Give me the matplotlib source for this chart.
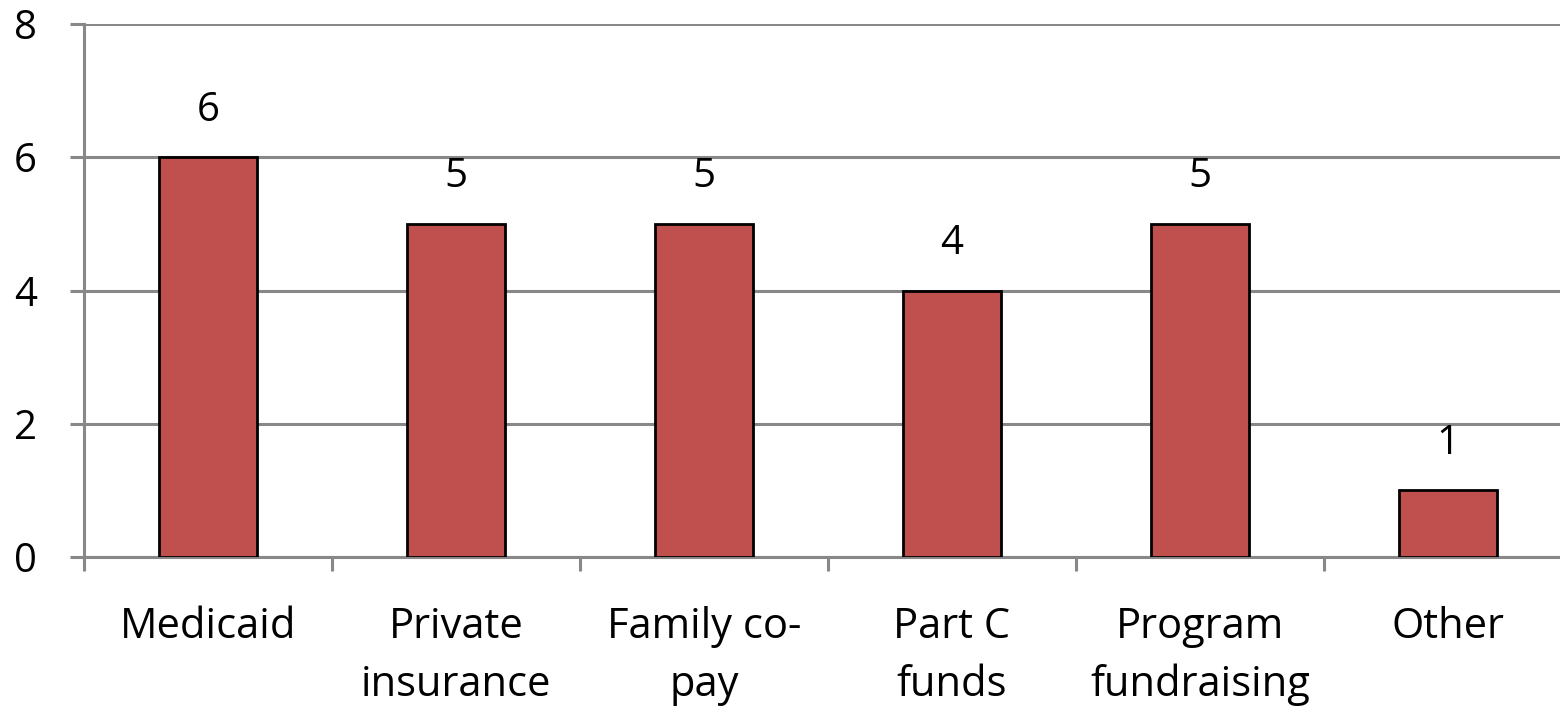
import numpy as np
import matplotlib.pyplot as plt
from matplotlib.ticker import FixedLocator

plt.rcParams['font.family'] = ['Open Sans', 'DejaVu Sans']

categories = ["Medicaid", "Private\ninsurance", "Family co-\npay", "Part C\nfunds",
              "Program\nfundraising", "Other"]
values = [6, 5, 5, 4, 5, 1]

W, H = 1560, 706
fig = plt.figure(figsize=(W / 100, H / 100), dpi=100)
# plot area runs slightly past the right edge of the picture
ax = fig.add_axes([84 / W, (H - 557) / H, (1572 - 84) / W, (557 - 24) / H])

x = np.arange(len(values))
ax.bar(x, values, width=0.395, color="#C0504D", edgecolor="black", linewidth=2, zorder=3)

for xi, v in zip(x, values):
    ax.annotate(str(v), (xi, v), xytext=(0, 19), textcoords="offset points",
                ha="center", va="bottom", fontsize=29)

ax.set_xlim(-0.5, 5.5)
ax.set_ylim(0, 8)
ax.set_yticks([0, 2, 4, 6, 8])
ax.yaxis.grid(True, color="#888888", linewidth=2.2, zorder=0)

ax.set_xticks(x)
ax.set_xticklabels(categories, fontsize=30, linespacing=1.5)
ax.xaxis.set_minor_locator(FixedLocator(np.arange(-0.5, 6, 1)))
ax.tick_params(axis="x", which="major", length=0, pad=35)
ax.tick_params(axis="x", which="minor", length=10, width=2.2, color="#888888")
ax.tick_params(axis="y", length=10, width=2.2, color="#888888", pad=24, labelsize=29)

for s in ["top", "right"]:
    ax.spines[s].set_visible(False)
for s in ["left", "bottom"]:
    ax.spines[s].set_color("#888888")
    ax.spines[s].set_linewidth(2.2)

fig.savefig("out.png", dpi=100)
